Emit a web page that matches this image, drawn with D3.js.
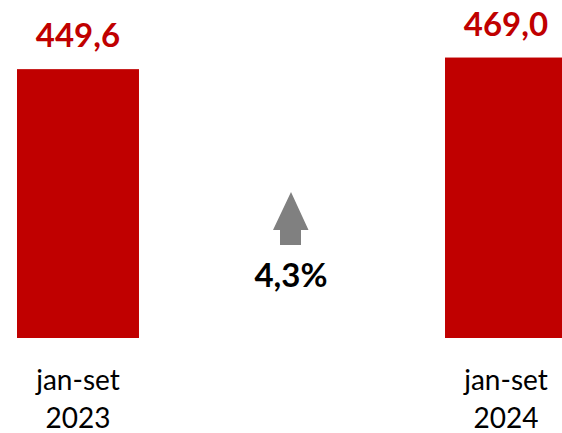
<!DOCTYPE html>
<html>
<head>
<meta charset="utf-8">
<script src="https://cdn.jsdelivr.net/npm/d3@7"></script>
<style>
  body { margin: 0; background: #fff; }
  svg { display: block; font-family: Lato, "Open Sans", sans-serif; }
</style>
</head>
<body>
<div id="chart"></div>
<script>
const periods = ["jan-set", "jan-set"];
const years = ["2023", "2024"];
const values = [449.6, 469.0];
const changeLabel = "4,3%";

const width = 562;
const height = 433;

const svg = d3.select("#chart").append("svg")
    .attr("width", width)
    .attr("height", height);

const x = d3.scaleBand()
    .domain(years)
    .range([17, 567])
    .paddingInner(0.715)
    .paddingOuter(0);

const y = d3.scaleLinear()
    .domain([0, 500])
    .range([338, 39]);

const fmt = v => v.toFixed(1).replace(".", ",");

const data = years.map((yr, i) => ({ year: yr, period: periods[i], value: values[i] }));

svg.selectAll("rect.bar")
    .data(data)
    .enter()
    .append("rect")
    .attr("class", "bar")
    .attr("x", d => x(d.year))
    .attr("y", d => y(d.value))
    .attr("width", x.bandwidth())
    .attr("height", d => y(0) - y(d.value))
    .attr("fill", "#c00000");

svg.selectAll("text.value")
    .data(data)
    .enter()
    .append("text")
    .attr("class", "value")
    .attr("x", d => x(d.year) + x.bandwidth() / 2)
    .attr("y", d => y(d.value) - 22)
    .attr("text-anchor", "middle")
    .attr("font-size", 33)
    .attr("font-weight", "bold")
    .attr("fill", "#c00000")
    .text(d => fmt(d.value));

const cat = svg.selectAll("text.cat")
    .data(data)
    .enter()
    .append("text")
    .attr("class", "cat")
    .attr("text-anchor", "middle")
    .attr("font-size", 28)
    .attr("fill", "#000");

cat.append("tspan")
    .attr("x", d => x(d.year) + x.bandwidth() / 2)
    .attr("y", 390)
    .text(d => d.period);

cat.append("tspan")
    .attr("x", d => x(d.year) + x.bandwidth() / 2)
    .attr("y", 428)
    .text(d => d.year);

// arrow between the bars
const cx = 291;
const arrow = d3.path();
arrow.moveTo(cx, 192);
arrow.lineTo(cx + 17.5, 230);
arrow.lineTo(cx + 10, 230);
arrow.lineTo(cx + 10, 245);
arrow.lineTo(cx - 11, 245);
arrow.lineTo(cx - 11, 230);
arrow.lineTo(cx - 18, 230);
arrow.closePath();

svg.append("path")
    .attr("d", arrow.toString())
    .attr("fill", "#808080");

svg.append("text")
    .attr("x", cx)
    .attr("y", 287)
    .attr("text-anchor", "middle")
    .attr("font-size", 33)
    .attr("font-weight", "bold")
    .attr("fill", "#000")
    .text(changeLabel);
</script>
</body>
</html>
